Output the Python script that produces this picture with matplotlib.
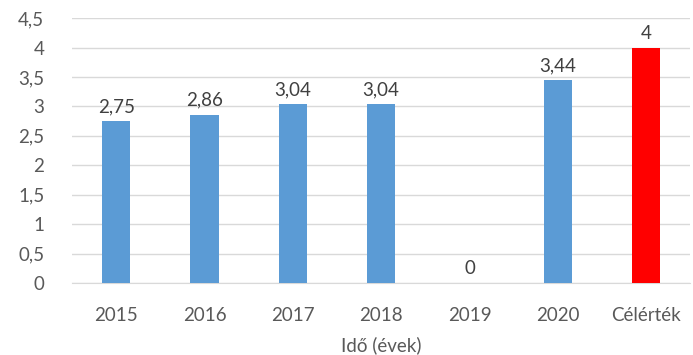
import matplotlib
matplotlib.use('Agg')
import matplotlib.pyplot as plt
import numpy as np

# Adatok
categories = ['2015', '2016', '2017', '2018', '2019', '2020', 'Célérték']
values = [2.75, 2.86, 3.04, 3.04, 0, 3.44, 4]
value_labels = ['2,75', '2,86', '3,04', '3,04', '0', '3,44', '4']
bar_colors = ['#5B9BD5'] * 6 + ['#FF0000']
yticks = [0, 0.5, 1, 1.5, 2, 2.5, 3, 3.5, 4, 4.5]
ytick_labels = ['0', '0,5', '1', '1,5', '2', '2,5', '3', '3,5', '4', '4,5']

plt.rcParams['font.family'] = ['Lato', 'DejaVu Sans']
text_color = '#595959'
fs = 13.5

fig = plt.figure(figsize=(6.93, 3.55), dpi=100)
ax = fig.add_axes([0.104, 0.203, 0.892, 0.746])

x = np.arange(len(categories))
bars = ax.bar(x, values, width=0.32, color=bar_colors, zorder=3)

for xi, v, lab in zip(x, values, value_labels):
    ax.text(xi, v + 0.1, lab, ha='center', va='bottom', fontsize=fs, color='#404040')

ax.set_xlim(-0.5, len(categories) - 0.5)
ax.set_ylim(0, 4.5)
ax.set_yticks(yticks)
ax.set_yticklabels(ytick_labels)
ax.set_xticks(x)
ax.set_xticklabels(categories)
ax.tick_params(axis='both', length=0, labelsize=fs, labelcolor=text_color)
ax.tick_params(axis='y', pad=20)
ax.tick_params(axis='x', pad=17)

ax.grid(axis='y', color='#D9D9D9', linewidth=1, zorder=0)
for s in ['top', 'right', 'left']:
    ax.spines[s].set_visible(False)
ax.spines['bottom'].set_color('#D9D9D9')

ax.set_xlabel('Idő (évek)', fontsize=fs, color=text_color, labelpad=9)

fig.savefig('out.png', dpi=100)
